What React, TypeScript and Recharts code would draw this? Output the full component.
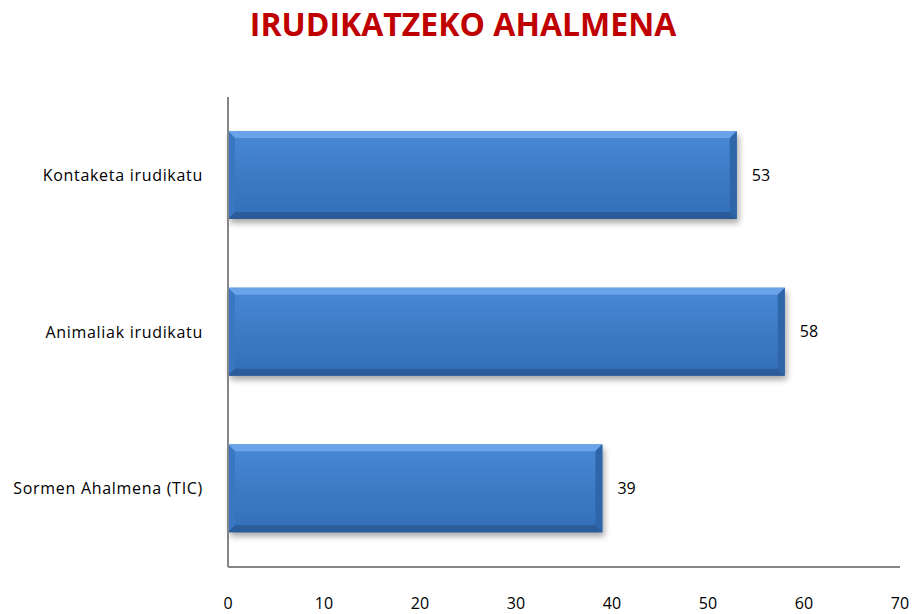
import React from "react";
import { BarChart, Bar, XAxis, YAxis, LabelList } from "recharts";

const categories = ["Kontaketa irudikatu", "Animaliak irudikatu", "Sormen Ahalmena (TIC)"];
const values = [53, 58, 39];
const xTicks = [0, 10, 20, 30, 40, 50, 60, 70];

const data = categories.map((name, i) => ({ name, value: values[i] }));

const FONT = "'Open Sans', 'Noto Sans', sans-serif";

const BevelBar = (props: any) => {
  const { x, y, width, height } = props;
  if (!width || width <= 0) return null;
  const b = 7;
  const r = x + width;
  const btm = y + height;
  return (
    <g>
      <rect x={x + 2} y={y + 4} width={width} height={height} fill="#000" opacity={0.35} filter="url(#barShadow)" />
      <rect x={x} y={y} width={width} height={height} fill="url(#barFill)" />
      <polygon points={`${x},${y} ${r},${y} ${r - b},${y + b} ${x + b},${y + b}`} fill="#6ea6ea" opacity={0.9} />
      <polygon points={`${x},${y} ${x + b},${y + b} ${x + b},${btm - b} ${x},${btm}`} fill="#3a77c2" />
      <polygon points={`${r},${y} ${r},${btm} ${r - b},${btm - b} ${r - b},${y + b}`} fill="#2f65a9" />
      <polygon points={`${x},${btm} ${r},${btm} ${r - b},${btm - b} ${x + b},${btm - b}`} fill="#2b5b98" />
    </g>
  );
};

export default function App() {
  return (
    <div style={{ position: "relative", width: 910, height: 606 }}>
      <div
        style={{
          position: "absolute",
          left: 0,
          top: 0,
          width: 910,
          textAlign: "center",
          fontFamily: FONT,
          fontWeight: 700,
          fontSize: 32,
          color: "#c00000",
          lineHeight: "36px",
          marginTop: -2,
        }}
      >
        IRUDIKATZEKO AHALMENA
      </div>
      <BarChart
        width={910}
        height={606}
        data={data}
        layout="vertical"
        margin={{ top: 89, right: 18, bottom: 0, left: 0 }}
        barSize={88}
      >
        <defs>
          <linearGradient id="barFill" x1="0" y1="0" x2="0" y2="1">
            <stop offset="0%" stopColor="#4888d5" />
            <stop offset="100%" stopColor="#336eb8" />
          </linearGradient>
          <filter id="barShadow" x="-10%" y="-20%" width="120%" height="140%">
            <feGaussianBlur stdDeviation="3" />
          </filter>
        </defs>
        <XAxis
          type="number"
          domain={[0, 70]}
          ticks={xTicks}
          axisLine={{ stroke: "#868686", strokeWidth: 2 }}
          tickLine={false}
          tickSize={0}
          tickMargin={31}
          height={47}
          interval={0}
          tick={{ fill: "#000", fontSize: 16, fontFamily: FONT }}
        />
        <YAxis
          type="category"
          dataKey="name"
          width={220}
          axisLine={{ stroke: "#868686", strokeWidth: 2 }}
          tickLine={false}
          tickSize={0}
          tickMargin={25}
          tick={{ fill: "#000", fontSize: 16, fontFamily: FONT, letterSpacing: 0.7 }}
        />
        <Bar dataKey="value" shape={<BevelBar />} isAnimationActive={false}>
          <LabelList
            dataKey="value"
            position="right"
            offset={15}
            style={{ fill: "#000", fontSize: 16, fontFamily: FONT }}
          />
        </Bar>
      </BarChart>
    </div>
  );
}
